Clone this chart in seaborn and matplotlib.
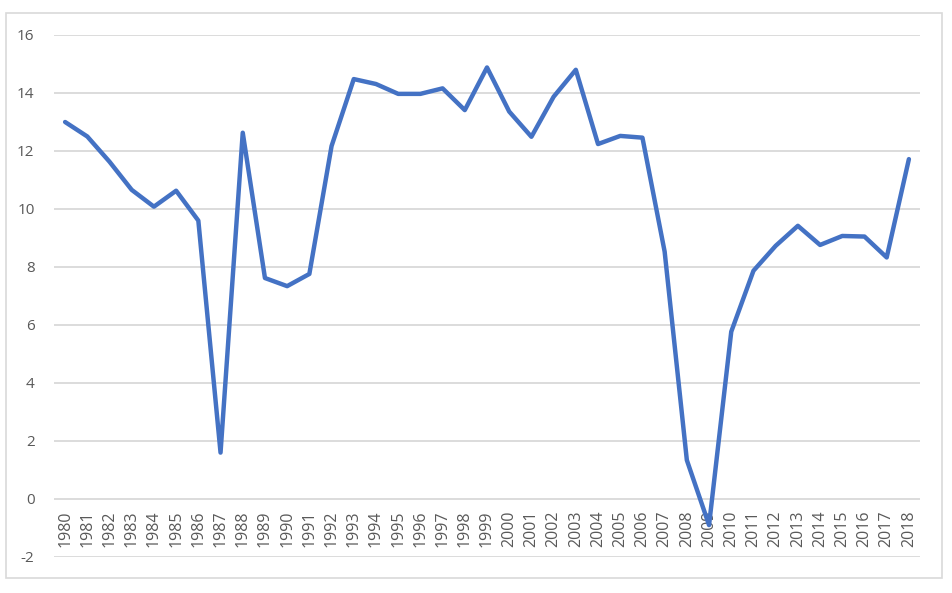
import numpy as np
import pandas as pd
import matplotlib
matplotlib.use("Agg")
import matplotlib.pyplot as plt
from matplotlib.patches import Rectangle
import seaborn as sns

years = list(range(1980, 2019))
values = [13.0, 12.5, 11.63, 10.66, 10.08, 10.63, 9.6, 1.6, 12.63, 7.62,
          7.34, 7.76, 12.17, 14.48, 14.31, 13.97, 13.97, 14.16, 13.41, 14.88,
          13.36, 12.49, 13.87, 14.8, 12.24, 12.52, 12.46, 8.53, 1.34, -0.9,
          5.77, 7.87, 8.73, 9.42, 8.76, 9.07, 9.05, 8.33, 11.72]
y_ticks = list(range(-2, 17, 2))

df = pd.DataFrame({"year": years, "value": values})

sns.set_style("white")
plt.rcParams['font.family'] = ['Open Sans', 'DejaVu Sans']

W, H = 953, 593
fig = plt.figure(figsize=(W / 100, H / 100), dpi=100)
ax = fig.add_axes([54 / W, 1 - 557 / H, (920 - 54) / W, (557 - 35) / H])

sns.lineplot(data=df, x="year", y="value", ax=ax, color="#4472C4",
             linewidth=3.2, solid_joinstyle="round", solid_capstyle="round", zorder=3)

# category axis crosses at 0, like in the Excel chart
for s in ["top", "right", "left"]:
    ax.spines[s].set_visible(False)
ax.spines["bottom"].set_position(("data", 0))
ax.spines["bottom"].set_visible(False)

ax.set_ylim(-2, 16)
ax.set_xlim(1979.5, 2018.5)
ax.set_yticks(y_ticks)
ax.set_yticklabels([str(v) for v in y_ticks])
ax.set_xticks(years)
ax.set_xticklabels([str(y) for y in years])
ax.yaxis.grid(True, color="#D9D9D9", linewidth=1.3)
ax.xaxis.grid(False)
ax.tick_params(axis="x", length=0, pad=8, labelsize=11.5, labelcolor="#595959",
               labelrotation=90)
ax.tick_params(axis="y", length=0, pad=14, labelsize=11, labelcolor="#595959")
plt.setp(ax.get_xticklabels(), rotation=90, va="top", ha="center")
ax.set_xlabel("")
ax.set_ylabel("")

fig.add_artist(Rectangle((6 / W, 1 - 578 / H), (942 - 6) / W, (578 - 13) / H,
                         transform=fig.transFigure, fill=False,
                         edgecolor="#D9D9D9", linewidth=1.2))

fig.savefig("out.png", dpi=100)
